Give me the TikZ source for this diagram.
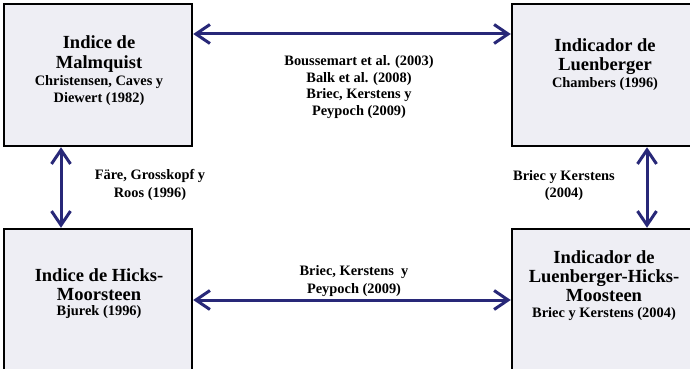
\documentclass[tikz,border=0pt]{standalone}
\usepackage{fontspec}
\setmainfont{Liberation Serif}
\usetikzlibrary{arrows.meta}
\definecolor{boxfill}{RGB}{238,238,244}
\definecolor{navy}{RGB}{40,40,120}
\tikzset{
  box/.style={draw=black, line width=2.5pt, fill=boxfill, minimum width=188pt, inner sep=0pt},
  ttl/.style={anchor=north, align=center, inner sep=0pt, font=\bfseries\fontsize{18.5pt}{19pt}\selectfont},
  sub/.style={anchor=north, align=center, inner sep=0pt, font=\bfseries\fontsize{14.4pt}{17pt}\selectfont},
  tipx/.tip={Straight Barb[length=14pt,width=19pt,line width=3pt]},
  arr/.style={draw=navy, line width=3pt, tipx-tipx}
}
\begin{document}
\begin{tikzpicture}[x=1pt,y=-1pt]
\useasboundingbox (0,0) rectangle (690,369);
\fill[white] (0,0) rectangle (690,369);
% boxes
\node[box, minimum height=142pt] (mq) at (98,75) {};
\node[box, minimum height=142pt] (lu) at (606,75) {};
\node[box, minimum height=151pt] (hm) at (98,304.5) {};
\node[box, minimum height=151pt] (lhm) at (606,304.5) {};
% box texts
\node[ttl] (mqt) at (99,35) {Indice de\\[1pt] Malmquist};
\node[sub] (mqs) at (99,75.4) {Christensen, Caves y\\ Diewert (1982)};
\node[ttl] (lut) at (605,38) {Indicador de\\ Luenberger};
\node[sub] (lus) at (605,77.4) {Chambers (1996)};
\node[ttl] (hmt) at (99,268) {Indice de Hicks-\\ Moorsteen};
\node[sub] (hms) at (99,305.3) {Bjurek (1996)};
\node[ttl] (lhmt) at (604,250) {Indicador de\\ Luenberger-Hicks-\\ Moosteen};
\node[sub] (lhms) at (604,307.3) {Briec y Kerstens (2004)};
% connector labels
\node[sub, font=\bfseries\fontsize{14.4pt}{16.7pt}\selectfont] (tl) at (359,55.3) {Boussemart et al. (2003)\\ Balk et al. (2008)\\ Briec, Kerstens y\\ Peypoch (2009)};
\node[sub] (bl) at (354,265.4) {Briec, Kerstens~ y\\[1pt] Peypoch (2009)};
\node[sub] (ll) at (150,169.5) {Färe, Grosskopf y\\[0.5pt] Roos (1996)};
\node[sub] (rl) at (564,170.4) {Briec y Kerstens\\ (2004)};
% connectors
\coordinate (ty) at (0,34);
\coordinate (by) at (0,300);
\coordinate (lx) at (61,0);
\coordinate (rx) at (647,0);
\draw[arr] (mq.east |- ty) -- (lu.west |- ty);
\draw[arr] (hm.east |- by) -- (lhm.west |- by);
\draw[arr] (mq.south -| lx) -- (hm.north -| lx);
\draw[arr] (lu.south -| rx) -- (lhm.north -| rx);
\end{tikzpicture}
\end{document}
